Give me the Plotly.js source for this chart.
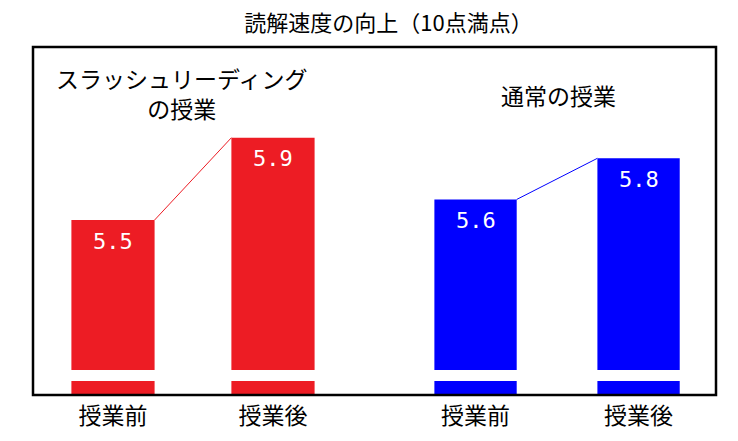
<!DOCTYPE html>
<html>
<head>
<meta charset="utf-8">
<script src="https://cdn.plot.ly/plotly-3.0.1.min.js"></script>
<style>html,body{margin:0;padding:0;background:#fff;}#chart{width:738px;height:441px;}</style>
</head>
<body>
<div id="chart"></div>
<script>
const categories = ["授業前", "授業後"];
const slashValues = [5.5, 5.9];
const normalValues = [5.6, 5.8];
const groupLabels = ["スラッシュリーディング<br>の授業", "通常の授業"];
const chartTitle = "読解速度の向上（10点満点）";

const RED = "#ED1C24";
const BLUE = "#0000FF";
const JP = "Noto Sans CJK JP, sans-serif";
const redW = 0.52, blueW = 0.505;
const idx = categories.map((c, i) => i);

function barPair(vals, color, xa, w) {
  return [
    {type: "bar", x: idx, y: vals, xaxis: xa, yaxis: "y", marker: {color: color}, width: w, hoverinfo: "skip"},
    {type: "bar", x: idx, y: vals, xaxis: xa, yaxis: "y2", marker: {color: color}, width: w, hoverinfo: "skip"},
    {type: "scatter", mode: "lines", x: [idx[0] + w / 2, idx[1] - w / 2], y: vals, xaxis: xa, yaxis: "y", line: {color: color, width: 1}, hoverinfo: "skip", cliponaxis: false}
  ];
}

const data = [].concat(
  barPair(slashValues, RED, "x", redW),
  barPair(normalValues, BLUE, "x2", blueW)
);

const valFont = {family: "DejaVu Sans Mono, monospace", size: 22, color: "#fff"};
const valueAnn = [];
slashValues.forEach((v, i) => valueAnn.push({x: idx[i], y: v, xref: "x", yref: "y", text: v.toFixed(1), showarrow: false, yshift: -21, font: valFont}));
normalValues.forEach((v, i) => valueAnn.push({x: idx[i], y: v, xref: "x2", yref: "y", text: v.toFixed(1), showarrow: false, yshift: -21, font: valFont}));

const xBase = {type: "linear", anchor: "y2", showgrid: false, zeroline: false, showline: false, ticks: "", tickvals: idx, ticktext: categories, ticklabelstandoff: 5, tickfont: {family: JP, size: 23, color: "#000"}, fixedrange: true};

const layout = {
  width: 738, height: 441,
  margin: {l: 33, r: 22, t: 47, b: 46},
  paper_bgcolor: "#fff", plot_bgcolor: "rgba(0,0,0,0)",
  showlegend: false,
  title: {text: chartTitle, x: 0.5264, xref: "container", xanchor: "center", y: 0.948, yref: "container", yanchor: "middle", font: {family: JP, size: 22, color: "#000"}},
  xaxis: Object.assign({}, xBase, {domain: [0, 0.4685], range: [-0.5, 1.5]}),
  xaxis2: Object.assign({}, xBase, {domain: [0.5286, 1], range: [-0.5, 1.475]}),
  yaxis: {domain: [0.0718, 1], range: [4.771, 6.341], showgrid: false, zeroline: false, showline: false, showticklabels: false, ticks: "", fixedrange: true},
  yaxis2: {domain: [0, 0.0402], range: [0, 1], showgrid: false, zeroline: false, showline: false, showticklabels: false, ticks: "", fixedrange: true},
  shapes: [{type: "rect", xref: "paper", yref: "paper", x0: 0, x1: 1, y0: 0, y1: 1, line: {color: "#000", width: 2.5}, fillcolor: "rgba(0,0,0,0)"}],
  annotations: valueAnn.concat([
    {x: 0.2167, y: 0.868, xref: "paper", yref: "paper", xanchor: "center", yanchor: "middle", text: groupLabels[0], showarrow: false, font: {family: JP, size: 23, color: "#000"}, align: "center"},
    {x: 0.769, y: 0.862, xref: "paper", yref: "paper", xanchor: "center", yanchor: "middle", text: groupLabels[1], showarrow: false, font: {family: JP, size: 23, color: "#000"}, align: "center"}
  ])
};

Plotly.newPlot("chart", data, layout, {displayModeBar: false, staticPlot: true});
</script>
</body>
</html>
